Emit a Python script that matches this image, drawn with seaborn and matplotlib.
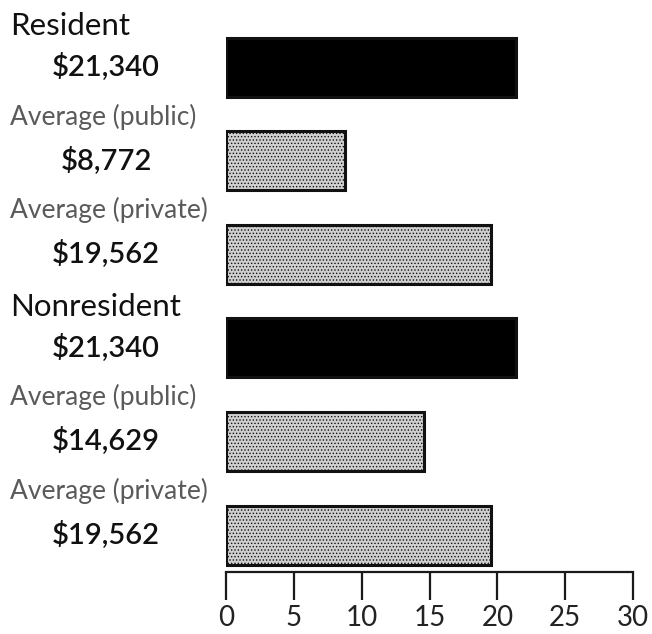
import matplotlib
matplotlib.use("Agg")
import matplotlib.pyplot as plt
import matplotlib.transforms as mtransforms
import pandas as pd
import seaborn as sns

# Annual tuition, resident vs nonresident, against public and private averages
row_titles = ["Resident", "Average (public)", "Average (private)",
              "Nonresident", "Average (public)", "Average (private)"]
row_ids = ["res_school", "res_public", "res_private",
           "non_school", "non_public", "non_private"]
bar_kind = ["school", "average", "average", "school", "average", "average"]
costs = [21340, 8772, 19562, 21340, 14629, 19562]
x_ticks = [0, 5, 10, 15, 20, 25, 30]

df = pd.DataFrame({
    "row": row_ids,
    "kind": bar_kind,
    "cost_k": [c / 1000 for c in costs],
})

sns.set_style("white")
plt.rcParams["font.family"] = ["Lato", "DejaVu Sans"]
plt.rcParams["hatch.color"] = "#9a9a9a"
plt.rcParams["hatch.linewidth"] = 0.6

fig = plt.figure(figsize=(6.52, 6.34), dpi=100)
ax = fig.add_axes([226 / 652, 62 / 634, 407 / 652, 572 / 634])

sns.barplot(data=df, x="cost_k", y="row", hue="kind", order=row_ids,
            palette={"school": "#000000", "average": "#cfcfcf"},
            dodge=False, width=0.63, legend=False, orient="h",
            edgecolor="#111111", linewidth=2.2, saturation=1, ax=ax)

# stippled fill for the (light) average bars
for patch in ax.patches:
    if patch.get_facecolor()[0] > 0.5:
        patch.set_hatch(".....")

ax.set_xlim(0, 30)
ax.set_ylim(5.395, -0.716)
ax.set_xticks(x_ticks)
ax.set_xticklabels([str(t) for t in x_ticks])
ax.set_yticks([])
ax.set_xlabel("")
ax.set_ylabel("")
for side in ("left", "top", "right"):
    ax.spines[side].set_visible(False)
ax.spines["bottom"].set_linewidth(1.6)
ax.spines["bottom"].set_color("#1a1a1a")
ax.tick_params(axis="x", bottom=True, direction="out", length=20, width=1.6,
               color="#1a1a1a", labelsize=20, labelcolor="#222222", pad=4)

# Row captions and dollar amounts in the left margin
trans = mtransforms.blended_transform_factory(fig.transFigure, ax.transData)
for i, (title, kind, cost) in enumerate(zip(row_titles, bar_kind, costs)):
    if kind == "school":
        ax.text(10 / 652, i - 0.44, title, transform=trans, ha="left",
                va="center", fontsize=22.5, color="#111111", clip_on=False)
    else:
        ax.text(10 / 652, i - 0.47, title, transform=trans, ha="left",
                va="center", fontsize=19, color="#5a5a5a", clip_on=False)
    ax.text(106 / 652, i, f"${cost:,}", transform=trans, ha="center",
            va="center", fontsize=21, fontweight="semibold", color="#111111",
            clip_on=False)

fig.savefig("out.png", dpi=100)
